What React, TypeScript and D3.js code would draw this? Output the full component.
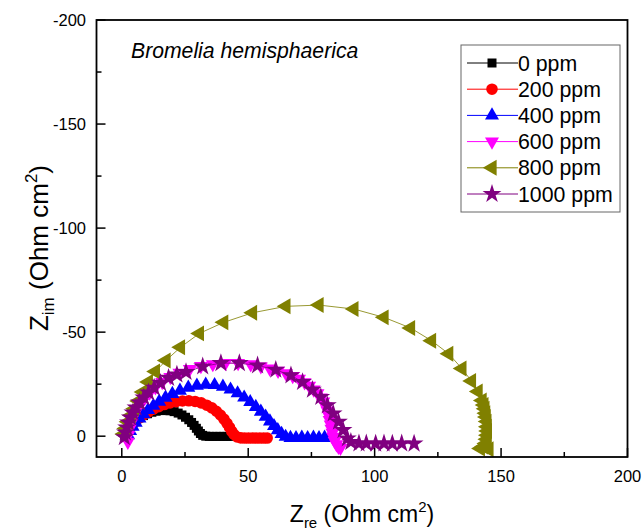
import React from "react";
import * as d3 from "d3";

// ---- data (Zre, Zim) in Ohm cm^2 ----
const series0: [number, number][] = [
  [1.2, -0.5], [1.7, -2], [2.4, -3.6], [3.3, -5.1], [4.4, -6.5], [5.7, -7.8], [7.1, -8.9], [8.6, -9.9],
  [10.2, -10.8], [11.9, -11.5], [13.6, -12], [15.4, -12.3], [17.2, -12.4], [19, -12.2], [20.7, -11.8],
  [22.3, -11.1], [23.8, -10.2], [25.2, -9.1], [26.5, -7.9], [27.6, -6.6], [28.6, -5.2], [29.5, -3.8],
  [30.3, -2.5], [31.1, -1.3], [32, -0.4], [33.2, 0], [34.6, 0.1], [36, 0.1], [37.4, 0.1], [38.8, 0.1],
  [40.2, 0.1], [41.6, 0.1], [43, 0.1],
];
const series200: [number, number][] = [
  [1.5, -0.5], [2.2, -2], [3.1, -3.8], [4.2, -5.5], [5.5, -7.2], [7, -8.8], [8.7, -10.3], [10.5, -11.7],
  [12.5, -13], [14.6, -14.2], [16.8, -15.2], [19.1, -16], [21.5, -16.6], [24, -16.9], [26.5, -17],
  [29, -16.7], [31.4, -16], [33.6, -14.9], [35.6, -13.6], [37.4, -12], [39, -10.2], [40.4, -8.2],
  [41.6, -6.2], [42.6, -4.2], [43.5, -2.3], [44.4, -0.8], [45.6, 0.4], [47.1, 0.8], [48.6, 0.9],
  [50.1, 0.9], [51.6, 0.9], [53.1, 0.9], [54.6, 0.9], [56.1, 0.9], [57.5, 0.9],
];
const series400: [number, number][] = [
  [2.5, -0.5], [3.3, -2.5], [4.3, -4.5], [5.5, -6.5], [7, -8.5], [8.6, -10.6], [10.4, -12.6],
  [12.5, -14.6], [14.8, -16.6], [17.3, -18.5], [20, -20.3], [23, -21.9], [26.3, -23.3], [29.7, -24.3],
  [33.2, -24.8], [36.7, -24.6], [40, -23.8], [43, -22.4], [45.8, -20.6], [48.4, -18.6], [50.8, -16.4],
  [53, -14.1], [55, -11.8], [56.9, -9.4], [58.6, -7.1], [60.2, -4.9], [61.7, -2.9], [63.2, -1.1],
  [64.8, 0.3], [66.7, 0.8], [68.9, 0.9], [71.2, 0.7], [73.5, 0.9], [75.8, 0.7], [78, 0.9],
  [80.2, 0.7], [82, 0.9],
];
const series600: [number, number][] = [
  [2.4, 2.7], [2.6, -0.5], [3.1, -3.5], [3.8, -6.5], [4.7, -9.5], [5.9, -12.5], [7.3, -15.4],
  [9, -18.2], [11, -20.9], [13.3, -23.5], [16, -26], [19.2, -28.4], [22.8, -30.5], [26.9, -32.3],
  [31.3, -33.7], [36, -34.6], [41, -35.1], [46, -35.1], [51, -34.5], [55, -33.5], [58.5, -32.5],
  [61.8, -31.4], [64.9, -30.2], [67.6, -28.9], [70.1, -27.6], [72.3, -25.9], [74.1, -24.2],
  [75.9, -22.4], [77.4, -20.6], [78.7, -18.6], [79.7, -16.6], [80.6, -14.4], [81.3, -12.3],
  [81.8, -10], [82.2, -7.7], [82.6, -5.6], [82.9, -3.6], [83.3, -1.6], [83.6, 0.3], [84.2, 2.3],
  [84.9, 3.9], [85.7, 5.2], [86.5, 5.6],
];
const series800: [number, number][] = [
  [0.7, -1], [1.5, -3.7], [2.4, -6.9], [3.7, -10.1], [5, -13.2], [6.6, -16.9], [8.3, -21.2],
  [10.5, -26], [13.3, -31.1], [17.5, -36.4], [23.2, -42.7], [30.7, -49.4], [40.3, -54.7],
  [51.7, -59.3], [64.9, -62.4], [78, -63], [91.8, -61.1], [103.7, -57.1], [114.2, -52],
  [122.5, -45.9], [129.3, -39.6], [134.5, -32.5], [138.3, -26.5], [140.9, -21.5], [142.5, -17.2],
  [143.2, -15], [143.6, -13.2], [143.9, -11], [144.1, -9.2], [144.4, -7], [144.5, -4.5],
  [144.6, -2.5], [144.5, -0.5], [144.3, 1.5], [143.9, 3.5], [143, 5], [141.8, 5.9], [145.2, 6.3],
];
const series1000: [number, number][] = [
  [1, 0.5], [1.4, -1.8], [1.9, -4.2], [2.6, -6.6], [3.4, -9], [4.4, -11.4], [5.6, -13.8], [7, -16.2],
  [8.7, -18.6], [10.6, -21], [12.8, -23.3], [15.3, -25.6], [18.5, -28], [21.8, -29.6], [25.4, -30.8],
  [32, -33.5], [39.2, -35.1], [46.5, -35.1], [53.7, -34], [60.9, -31.9], [66.9, -29.2], [71.5, -26],
  [75.4, -22.3], [78.7, -18.8], [81.3, -14.8], [83.6, -10.9], [85.7, -6.9], [87.5, -2.9],
  [89.2, 1.1], [90.6, 2.8], [93.8, 3.5], [96.7, 3.5], [100.4, 3.6], [103.7, 3.5], [107, 3.6],
  [110.7, 3.5], [115.6, 3.6],
];

const seriesLabels = ["0 ppm", "200 ppm", "400 ppm", "600 ppm", "800 ppm", "1000 ppm"];
const seriesColors = ["#000000", "#ff0000", "#0000ff", "#ff00ff", "#808000", "#800080"];
const xTicks = [0, 50, 100, 150, 200];
const xMinor = [25, 75, 125, 175];
const yTicks = [-200, -150, -100, -50, 0];
const yMinor = [-175, -125, -75, -25];
const titleText = "Bromelia hemisphaerica";

const allSeries = [series0, series200, series400, series600, series800, series1000];

// layout
const W = 644, H = 531;
const L = 96.5, R = 627.5, T = 20, B = 457;
const FONT = "Arial, 'Liberation Sans', Helvetica, sans-serif";

const x = d3.scaleLinear().domain([-10, 200]).range([L, R]);
const y = d3.scaleLinear().domain([-200, 10]).range([T, B]);

const symbolDefs = [
  { type: d3.symbolSquare, size: 81, rot: 0 },
  { type: d3.symbolCircle, size: 105, rot: 0 },
  { type: d3.symbolTriangle, size: 85, rot: 0 },
  { type: d3.symbolTriangle, size: 85, rot: 180 },
  { type: d3.symbolTriangle, size: 110, rot: -90 },
  { type: d3.symbolStar, size: 110, rot: 0 },
];

const lineGen = d3.line<[number, number]>().x((d) => x(d[0])).y((d) => y(d[1]));

function Marker({ i, cx, cy }: { i: number; cx: number; cy: number }) {
  const s = symbolDefs[i];
  const path = d3.symbol().type(s.type).size(s.size)() as string;
  return (
    <path
      d={path}
      transform={`translate(${cx},${cy}) rotate(${s.rot})`}
      fill={seriesColors[i]}
      stroke="none"
    />
  );
}

export default function App() {
  const legX = 461, legY = 45, legW = 159, legH = 167;
  const rowY0 = 63, rowDy = 26.2;
  return (
    <svg width={W} height={H} style={{ position: "absolute", left: 0, top: 0, background: "#fff" }}>
      <rect x={0} y={0} width={W} height={H} fill="#fff" />
      {/* series */}
      {allSeries.map((s, i) => (
        <g key={i}>
          <path d={lineGen(s) as string} fill="none" stroke={seriesColors[i]} strokeWidth={1} opacity={0.8} />
          {s.map((d, j) => (
            <Marker key={j} i={i} cx={x(d[0])} cy={y(d[1])} />
          ))}
        </g>
      ))}
      {/* frame */}
      <rect x={L} y={T} width={R - L} height={B - T} fill="none" stroke="#000" strokeWidth={1.8} />
      {/* x ticks */}
      {xTicks.map((t) => (
        <g key={"xt" + t}>
          <line x1={x(t)} x2={x(t)} y1={B} y2={B - 9} stroke="#000" strokeWidth={1.5} />
          <text x={x(t)} y={482} textAnchor="middle" fontFamily={FONT} fontSize={16.5} fill="#000">
            {t}
          </text>
        </g>
      ))}
      {xMinor.map((t) => (
        <line key={"xm" + t} x1={x(t)} x2={x(t)} y1={B} y2={B - 5} stroke="#000" strokeWidth={1.5} />
      ))}
      {/* y ticks */}
      {yTicks.map((t) => (
        <g key={"yt" + t}>
          <line x1={L} x2={L + 9} y1={y(t)} y2={y(t)} stroke="#000" strokeWidth={1.5} />
          <text x={86} y={y(t) + 6} textAnchor="end" fontFamily={FONT} fontSize={16.5} fill="#000">
            {t}
          </text>
        </g>
      ))}
      {yMinor.map((t) => (
        <line key={"ym" + t} x1={L} x2={L + 5} y1={y(t)} y2={y(t)} stroke="#000" strokeWidth={1.5} />
      ))}
      {/* axis titles */}
      <text x={362} y={522} textAnchor="middle" fontFamily={FONT} fontSize={23} fill="#000">
        Z<tspan fontSize={15} dy={6}>re</tspan>
        <tspan dy={-6}> (Ohm cm</tspan>
        <tspan fontSize={15} dy={-10}>2</tspan>
        <tspan dy={10}>)</tspan>
      </text>
      <text
        transform={`translate(48,248) rotate(-90)`}
        textAnchor="middle"
        fontFamily={FONT}
        fontSize={26}
        fill="#000"
      >
        Z<tspan fontSize={17} dy={6}>im</tspan>
        <tspan dy={-6}> (Ohm cm</tspan>
        <tspan fontSize={17} dy={-11}>2</tspan>
        <tspan dy={11}>)</tspan>
      </text>
      {/* title */}
      <text x={131} y={58} fontFamily={FONT} fontStyle="italic" fontSize={21.2} fill="#000">
        {titleText}
      </text>
      {/* legend */}
      <rect x={legX} y={legY} width={legW} height={legH} fill="#fff" stroke="#666" strokeWidth={1} />
      {seriesLabels.map((lab, i) => {
        const yy = rowY0 + i * rowDy;
        return (
          <g key={lab}>
            <line x1={467} x2={518} y1={yy} y2={yy} stroke={seriesColors[i]} strokeWidth={1} />
            <Marker i={i} cx={492} cy={yy} />
            <text x={518} y={yy + 7.5} fontFamily={FONT} fontSize={21.3} fill="#000">
              {lab}
            </text>
          </g>
        );
      })}
    </svg>
  );
}
